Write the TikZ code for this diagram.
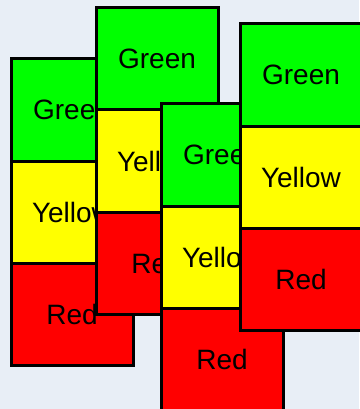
\documentclass[tikz,border=0pt]{standalone}
\usepackage{fontspec}
\setmainfont{Liberation Sans}
\definecolor{bg}{HTML}{E8EEF6}
\definecolor{gfill}{HTML}{00FF00}
\definecolor{yfill}{HTML}{FFFF00}
\definecolor{rfill}{HTML}{FF0000}
\begin{document}
\begin{tikzpicture}[x=1pt,y=-1pt,
  box/.style={draw=black, line width=3pt, minimum width=122pt, minimum height=102pt,
    anchor=north west, inner sep=0pt, outer sep=0pt, font=\fontsize{28}{28}\selectfont},
  gbox/.style={box, fill=gfill},
  ybox/.style={box, fill=yfill},
  rbox/.style={box, fill=rfill}]
\fill[bg] (0,0) rectangle (359,409);
\useasboundingbox (0,0) rectangle (359,409);
% stack 1
\node[gbox] (s1g) at (11,59) {Green};
\node[ybox] (s1y) at (11,161) {Yellow};
\node[rbox] (s1r) at (11,263) {Red};
% stack 2
\node[gbox] (s2g) at (96,8) {Green};
\node[ybox] (s2y) at (96,110) {Yellow};
\node[rbox] (s2r) at (96,212) {Red};
% stack 3
\node[gbox] (s3g) at (161,104) {Green};
\node[ybox] (s3y) at (161,206) {Yellow};
\node[rbox] (s3r) at (161,308) {Red};
% stack 4
\node[gbox] (s4g) at (240,24) {Green};
\node[ybox] (s4y) at (240,126) {Yellow};
\node[rbox] (s4r) at (240,228) {Red};
\end{tikzpicture}
\end{document}
